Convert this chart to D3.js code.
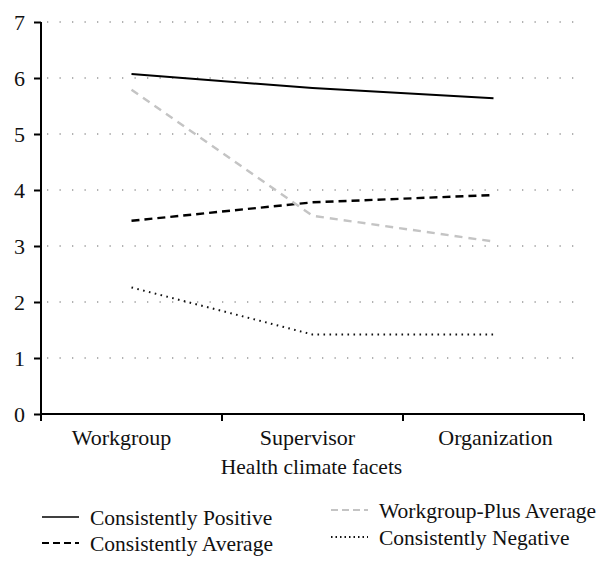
<!DOCTYPE html>
<html><head><meta charset="utf-8">
<script src="https://cdn.jsdelivr.net/npm/d3@7"></script>
<style>body{margin:0;background:#fff}svg{display:block}text{font-family:"Liberation Serif","DejaVu Serif",serif;fill:#111}</style>
</head><body><svg id="c" width="614" height="567"></svg>
<script>
const categories = ["Workgroup", "Supervisor", "Organization"];
const yTicks = [0, 1, 2, 3, 4, 5, 6, 7];
const seriesNames = ["Consistently Positive", "Consistently Average", "Workgroup-Plus Average", "Consistently Negative"];
const positive = [6.07, 5.82, 5.64];
const average = [3.45, 3.78, 3.91];
const workgroupPlus = [5.79, 3.54, 3.08];
const negative = [2.26, 1.42, 1.42];
const xTitle = "Health climate facets";

(function(){
const styles = [
  {color:"#000", dash:null, w:2},
  {color:"#000", dash:"8,5", w:2.4},
  {color:"#c4c4c4", dash:"8,6", w:2.4},
  {color:"#111", dash:"1.6,4.4", w:2}
];
const allSeries = [positive, average, workgroupPlus, negative];

const svg = d3.select("#c");
const mL = 41, mR = 584, mT = 22, mB = 414;
const x = d3.scaleBand().domain(categories).range([mL, mR]).padding(0);
const y = d3.scaleLinear().domain([0, 7]).range([mB, mT]);

// gridlines
svg.append("g").selectAll("line").data(yTicks.filter(d => d > 0)).join("line")
  .attr("x1", mL + 6).attr("x2", mR).attr("y1", d => y(d)).attr("y2", d => y(d))
  .attr("stroke", "#999").attr("stroke-width", 1.3).attr("stroke-dasharray", "1.3,11.2");

// y axis
const ya = svg.append("g").attr("transform", `translate(${mL},0)`)
  .call(d3.axisLeft(y).tickValues(yTicks).tickSize(7).tickPadding(9).tickFormat(d3.format("d")));
ya.select(".domain").attr("stroke", "#000").attr("stroke-width", 2).attr("d", `M0,${mT}V${mB}`);
ya.selectAll(".tick line").attr("stroke", "#000").attr("stroke-width", 2);
ya.selectAll("text").style("font-size", "22px").attr("fill", "#111");

// x axis
const xa = svg.append("g").attr("transform", `translate(0,${mB})`)
  .call(d3.axisBottom(x).tickSize(0).tickPadding(15));
xa.select(".domain").attr("stroke", "#000").attr("stroke-width", 2).attr("d", `M${mL},0H${mR}`);
const labelShift = [-10, -5, 2];
xa.selectAll("text").style("font-size", "22px").attr("fill", "#111").attr("dx", (d, i) => labelShift[i]);
const bounds = categories.map(c => x(c)).concat([mR]);
svg.append("g").selectAll("line").data(bounds).join("line")
  .attr("x1", d => d).attr("x2", d => d).attr("y1", mB).attr("y2", mB + 7)
  .attr("stroke", "#000").attr("stroke-width", 2);

svg.append("text").attr("x", (mL + mR) / 2 - 1).attr("y", 474).attr("text-anchor", "middle")
  .style("font-size", "21.5px").text(xTitle);

// lines
const line = d3.line().x((d, i) => x(categories[i]) + x.bandwidth() / 2).y(d => y(d));
allSeries.forEach((s, i) => {
  svg.append("path").datum(s).attr("d", line).attr("fill", "none")
    .attr("stroke", styles[i].color).attr("stroke-width", styles[i].w)
    .attr("stroke-dasharray", styles[i].dash);
});

// legend
const legPos = [[42, 517], [42, 543], [331, 510], [331, 537]];
seriesNames.forEach((n, i) => {
  const [lx, ly] = legPos[i];
  svg.append("line").attr("x1", lx).attr("x2", lx + 37).attr("y1", ly).attr("y2", ly)
    .attr("stroke", styles[i].color).attr("stroke-width", i === 0 ? 1.6 : 1.8)
    .attr("stroke-dasharray", i === 0 ? null : (i === 3 ? "1.5,3" : "7,4"));
  svg.append("text").attr("x", lx + 48).attr("y", ly).attr("dy", "0.35em")
    .style("font-size", "21.5px").text(n);
});
})();
</script></body></html>
